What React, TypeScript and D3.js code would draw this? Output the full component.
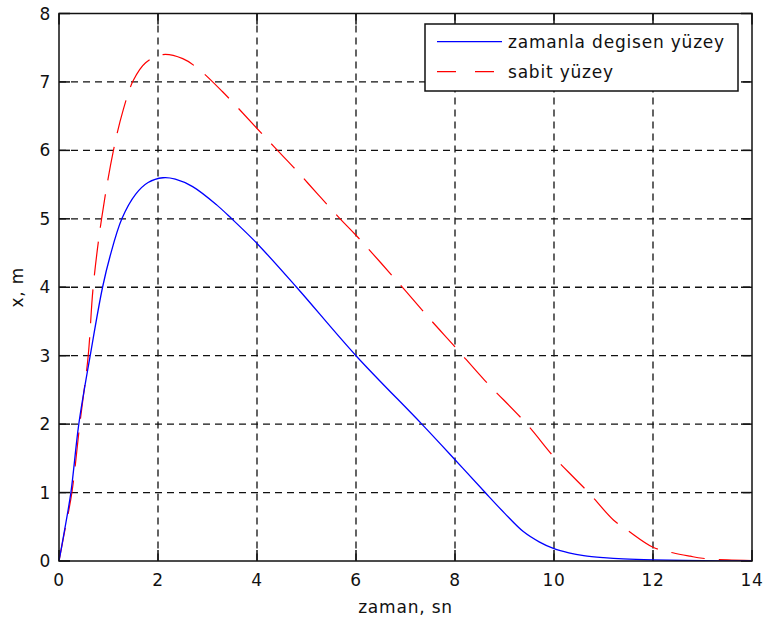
import React from "react";
import * as d3 from "d3";

// Time axis (s) and displacement (m) for the two surface cases
const tVarying = [0, 0.1, 0.24, 0.4, 0.63, 0.88, 1.03, 1.27, 1.55, 1.8, 2.1, 2.35, 2.7, 3.19, 3.49, 4.0, 4.8, 6.0, 7.33, 8.0, 8.61, 9.0, 9.38, 9.7, 10.0, 10.3, 10.6, 11.0, 11.4, 12.0, 13.0, 14.0];
const xVarying = [0, 0.4, 1.0, 2.0, 3.0, 4.0, 4.45, 5.0, 5.36, 5.53, 5.6, 5.58, 5.47, 5.2, 5.0, 4.64, 4.0, 3.0, 2.0, 1.48, 1.0, 0.7, 0.43, 0.28, 0.18, 0.12, 0.08, 0.05, 0.03, 0.015, 0.005, 0.0];

const tFixed = [0, 0.1, 0.26, 0.42, 0.59, 0.69, 0.86, 1.1, 1.3, 1.5, 1.75, 2.1, 2.5, 2.8, 3.3, 4.0, 4.4, 4.73, 5.24, 5.68, 6.0, 6.9, 7.5, 8.0, 8.6, 9.45, 10.0, 10.4, 10.7, 11.2, 11.5, 12.0, 12.4, 12.75, 13.0, 13.5, 14.0];
const xFixed = [0, 0.38, 1.0, 2.0, 3.0, 4.0, 5.0, 6.0, 6.6, 7.02, 7.28, 7.4, 7.34, 7.2, 6.86, 6.32, 6.01, 5.76, 5.35, 5.0, 4.76, 4.03, 3.53, 3.13, 2.64, 2.0, 1.52, 1.22, 1.0, 0.6, 0.44, 0.2, 0.12, 0.07, 0.04, 0.015, 0.005];

const xTicks = [0, 2, 4, 6, 8, 10, 12, 14];
const yTicks = [0, 1, 2, 3, 4, 5, 6, 7, 8];

const seriesNames = ["zamanla degisen yüzey", "sabit yüzey"];
const xLabel = "zaman, sn";
const yLabel = "x, m";

const W = 764;
const H = 624;
const L = 59, R = 752, T = 13.5, B = 561;
const FONT = "'DejaVu Sans', sans-serif";
const TICK = 11;

export default function App() {
  const x = d3.scaleLinear().domain([0, 14]).range([L, R]);
  const y = d3.scaleLinear().domain([0, 8]).range([B, T]);

  const line = d3
    .line<[number, number]>()
    .x((d) => x(d[0]))
    .y((d) => y(d[1]))
    .curve(d3.curveCatmullRom.alpha(0.5));

  const varying = tVarying.map((t, i) => [t, xVarying[i]] as [number, number]);
  const fixed = tFixed.map((t, i) => [t, xFixed[i]] as [number, number]);

  const textStyle: React.CSSProperties = { fontFamily: FONT, fontSize: 17, letterSpacing: 0.8, fill: "#111" };

  return (
    <svg
      width={W}
      height={H}
      style={{ position: "absolute", left: 0, top: 0, background: "#fff" }}
    >
      <defs>
        <clipPath id="plot">
          <rect x={L} y={T} width={R - L} height={B - T} />
        </clipPath>
      </defs>
      <rect x={0} y={0} width={W} height={H} fill="#fff" />

      {/* grid */}
      <g stroke="#111" strokeWidth={1.3} strokeDasharray="7 5">
        {xTicks.slice(1, -1).map((t) => (
          <line key={"gx" + t} x1={x(t)} x2={x(t)} y1={T} y2={B} />
        ))}
        {yTicks.slice(1, -1).map((v) => (
          <line key={"gy" + v} x1={L} x2={R} y1={y(v)} y2={y(v)} />
        ))}
      </g>

      {/* tick marks, all four sides, pointing inward */}
      <g stroke="#111" strokeWidth={1.5}>
        {xTicks.map((t) => (
          <g key={"tx" + t}>
            <line x1={x(t)} x2={x(t)} y1={B} y2={B - TICK} />
            <line x1={x(t)} x2={x(t)} y1={T} y2={T + TICK} />
          </g>
        ))}
        {yTicks.map((v) => (
          <g key={"ty" + v}>
            <line x1={L} x2={L + TICK} y1={y(v)} y2={y(v)} />
            <line x1={R} x2={R - TICK} y1={y(v)} y2={y(v)} />
          </g>
        ))}
      </g>

      {/* data */}
      <g clipPath="url(#plot)" fill="none">
        <path d={line(fixed) || ""} stroke="#ff0000" strokeWidth={1.2} strokeDasharray="34 14" />
        <path d={line(varying) || ""} stroke="#0000ff" strokeWidth={1.3} />
      </g>

      {/* axes box */}
      <rect x={L} y={T} width={R - L} height={B - T} fill="none" stroke="#111" strokeWidth={1.5} />

      {/* tick labels */}
      {xTicks.map((t) => (
        <text key={"lx" + t} x={x(t)} y={B + 25} textAnchor="middle" style={textStyle}>
          {t}
        </text>
      ))}
      {yTicks.map((v) => (
        <text key={"ly" + v} x={L - 8} y={y(v)} dy="0.36em" textAnchor="end" style={textStyle}>
          {v}
        </text>
      ))}

      {/* axis labels */}
      <text x={(L + R) / 2} y={B + 52} textAnchor="middle" style={textStyle}>
        {xLabel}
      </text>
      <text
        transform={`translate(23, ${(T + B) / 2}) rotate(-90)`}
        textAnchor="middle"
        style={textStyle}
      >
        {yLabel}
      </text>

      {/* legend */}
      <g>
        <rect x={425} y={24} width={313} height={67} fill="#fff" stroke="#111" strokeWidth={1.5} />
        <line x1={437} x2={502} y1={41.7} y2={41.7} stroke="#0000ff" strokeWidth={1.3} />
        <line x1={437} x2={502} y1={71.7} y2={71.7} stroke="#ff0000" strokeWidth={1.2} strokeDasharray="19 19" />
        <text x={508} y={41.7} dy="0.36em" style={textStyle}>
          {seriesNames[0]}
        </text>
        <text x={508} y={71.7} dy="0.36em" style={textStyle}>
          {seriesNames[1]}
        </text>
      </g>
    </svg>
  );
}
